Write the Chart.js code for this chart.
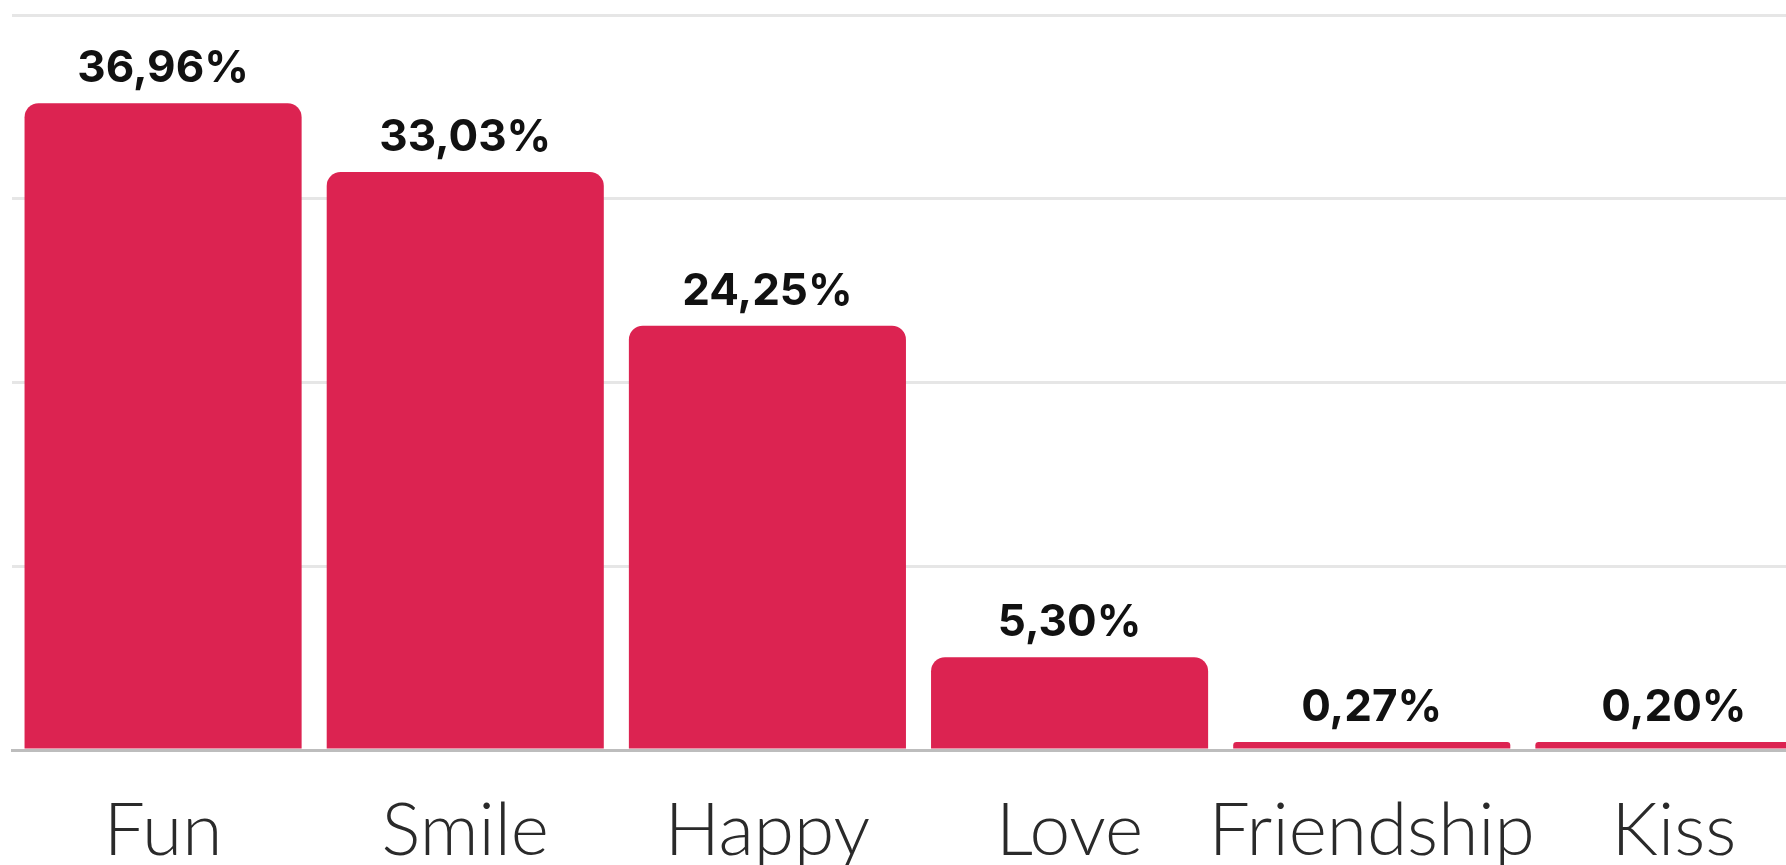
<!DOCTYPE html>
<html>
<head>
<meta charset="utf-8">
<title>Emoji meaning share</title>
<script src="https://cdn.jsdelivr.net/npm/chart.js@4.4.1/dist/chart.umd.min.js"></script>
<style>
  html, body { margin: 0; padding: 0; background: #fff; overflow: hidden; }
  .chart-wrap { position: relative; width: 1825px; height: 865px; }
</style>
</head>
<body>
<div class="chart-wrap">
  <canvas id="chartCanvas"></canvas>
</div>
<script>
// categories and shares
const categories = ['Fun', 'Smile', 'Happy', 'Love', 'Friendship', 'Kiss'];
const shares = [36.96, 33.03, 24.25, 5.30, 0.27, 0.20];
const valueLabels = ['36,96%', '33,03%', '24,25%', '5,30%', '0,27%', '0,20%'];

const barColor = '#dc2351';

// draws the percentage above each bar
const valueLabelPlugin = {
  id: 'valueLabels',
  afterDatasetsDraw(chart) {
    const ctx = chart.ctx;
    const meta = chart.getDatasetMeta(0);
    ctx.save();
    ctx.fillStyle = '#111';
    ctx.font = '700 44px Inter, "Open Sans", sans-serif';
    ctx.textAlign = 'center';
    ctx.textBaseline = 'alphabetic';
    meta.data.forEach((bar, i) => {
      ctx.fillText(valueLabels[i], bar.x, bar.y - 21);
    });
    ctx.restore();
  }
};

const ctx = document.getElementById('chartCanvas').getContext('2d');
new Chart(ctx, {
  type: 'bar',
  data: {
    labels: categories,
    datasets: [{
      data: shares,
      backgroundColor: barColor,
      borderRadius: 14,
      minBarLength: 8,
      barPercentage: 0.917,
      categoryPercentage: 1.0
    }]
  },
  options: {
    responsive: true,
    maintainAspectRatio: false,
    animation: false,
    layout: { padding: { top: 15, left: 12, right: 0, bottom: 0 } },
    plugins: {
      legend: { display: false },
      tooltip: { enabled: false }
    },
    scales: {
      x: {
        grid: { display: false },
        border: { display: true, color: '#bdbdbd', width: 3 },
        ticks: {
          color: '#2a2a2a',
          padding: 37,
          autoSkip: false,
          maxRotation: 0,
          minRotation: 0,
          font: { family: 'Lato, "Open Sans", sans-serif', size: 73, weight: '300', lineHeight: 1 }
        },
        afterFit: (scale) => { scale.height = 115; }
      },
      y: {
        min: 0,
        max: 42,
        ticks: { display: false, stepSize: 10.5 },
        border: { display: false },
        grid: {
          color: '#e6e6e6',
          lineWidth: 3,
          drawTicks: false
        }
      }
    }
  },
  plugins: [valueLabelPlugin]
});
</script>
</body>
</html>
